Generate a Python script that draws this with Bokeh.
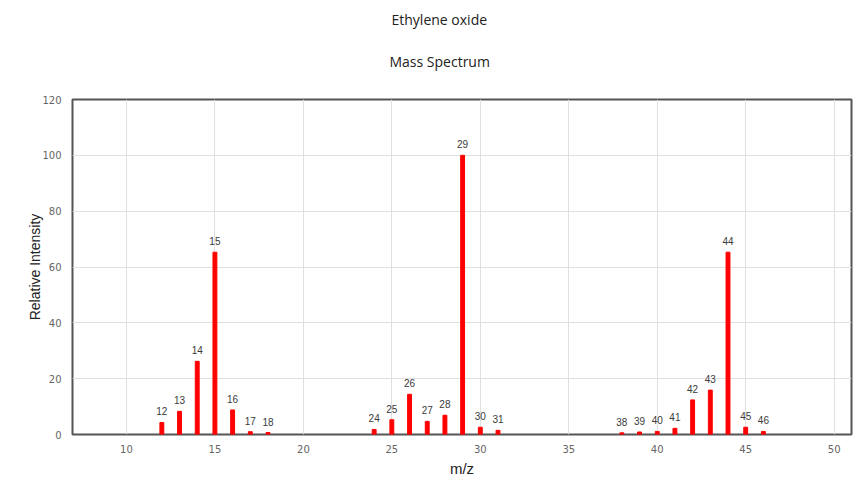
from bokeh.plotting import figure
from bokeh.models import ColumnDataSource, Range1d, FixedTicker, Title
from bokeh.core.properties import value
from bokeh.embed import file_html
from bokeh.resources import INLINE

mz = [12, 13, 14, 15, 16, 17, 18, 24, 25, 26, 27, 28, 29, 30, 31,
      38, 39, 40, 41, 42, 43, 44, 45, 46]
intensity = [4.3, 8.3, 26.2, 65.3, 8.8, 1.0, 0.7, 1.8, 5.3, 14.4, 4.7, 6.9, 100.0, 2.6, 1.5,
             0.6, 0.9, 1.1, 2.2, 12.4, 15.9, 65.3, 2.6, 1.1]
labels = [str(m) for m in mz]
x_ticks = [10, 15, 20, 25, 30, 35, 40, 45, 50]
y_ticks = [0, 20, 40, 60, 80, 100, 120]

src = ColumnDataSource(dict(x=mz, top=intensity, label=labels))

p = figure(width=859, height=479, output_backend="svg", toolbar_location=None,
           x_range=Range1d(6.95, 50.98), y_range=Range1d(0, 120),
           min_border_left=72, min_border_right=8, min_border_top=97, min_border_bottom=44)

p.vbar(x="x", top="top", width=0.22, source=src, color="#ff0000")
p.text(x="x", y="top", text="label", source=src, text_align="center", text_baseline="bottom",
       y_offset=-7, text_font=value("Liberation Sans"), text_font_size="10px", text_color="#3a3a3a")

# spacer between the frame and the subtitle
p.add_layout(Title(text=" ", text_font_size="10px", standoff=2), "above")
p.add_layout(Title(text="Mass Spectrum", align="left", offset=317, text_font="Open Sans",
                   text_font_size="14px", text_font_style="normal", text_color="#222222",
                   standoff=28), "above")
p.title.text = "Ethylene oxide"
p.title.align = "left"
p.title.offset = 319
p.title.text_font = "Open Sans"
p.title.text_font_size = "14px"
p.title.text_font_style = "normal"
p.title.text_color = "#222222"
p.title.standoff = 14

p.outline_line_color = "#555555"
p.outline_line_width = 2
p.outline_line_alpha = 1

for ax in (p.xaxis[0], p.yaxis[0]):
    ax.axis_line_color = None
    ax.major_tick_line_color = None
    ax.minor_tick_line_color = None
    ax.major_label_text_font = "DejaVu Sans"
    ax.major_label_text_font_size = "10px"
    ax.major_label_text_color = "#666666"
    ax.axis_label_text_font = "Liberation Sans"
    ax.axis_label_text_font_style = "normal"
    ax.axis_label_text_color = "#222222"

p.xaxis[0].ticker = FixedTicker(ticks=x_ticks)
p.yaxis[0].ticker = FixedTicker(ticks=y_ticks)
p.xaxis.axis_label = "m/z"
p.xaxis.axis_label_text_font_size = "15px"
p.xaxis.major_label_standoff = 4
p.xaxis.axis_label_standoff = 4
p.yaxis.axis_label = "Relative Intensity"
p.yaxis.axis_label_text_font_size = "14px"
p.yaxis.major_label_standoff = 5
p.yaxis.axis_label_standoff = -4

p.xgrid.grid_line_color = "#e0e0e0"
p.ygrid.grid_line_color = "#e0e0e0"
p.xgrid.ticker = FixedTicker(ticks=x_ticks)
p.ygrid.ticker = FixedTicker(ticks=y_ticks)

open("out.html", "w").write(file_html(p, INLINE))
